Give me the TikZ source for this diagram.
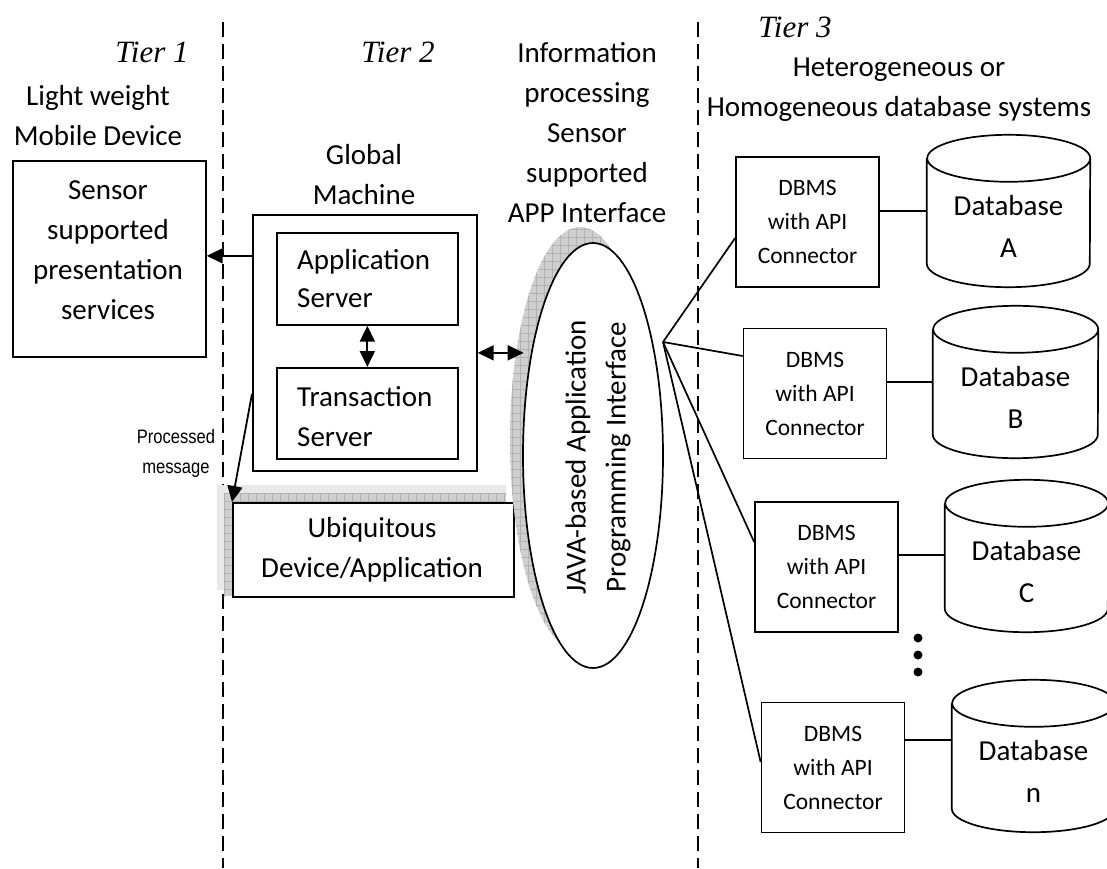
\documentclass[tikz,border=0pt]{standalone}
\usepackage{fontspec}
\setmainfont{Carlito}
\newfontfamily\tierfont{Liberation Serif}
\newfontfamily\narrowfont[FakeStretch=0.85]{Liberation Sans}
\usetikzlibrary{arrows.meta,patterns.meta,calc,shapes.geometric}

\newcommand\dbcyl[2]{% node name, x radius
  \draw[edge] ([yshift=7.5pt]#1.north west) -- ([yshift=23.5pt]#1.south west)
    arc[start angle=180,end angle=360,x radius=#2pt,y radius=23.5pt]
    -- ([yshift=7.5pt]#1.north east)
    arc[start angle=0,end angle=360,x radius=#2pt,y radius=23.5pt];}

\tikzset{
  edge/.style={line width=1.7pt},
  txt/.style={font=\fontsize{29}{40}\selectfont, align=center, inner sep=0pt},
  tier/.style={font=\tierfont\itshape\fontsize{31}{36}\selectfont, inner sep=0pt},
  boxx/.style={draw, line width=1.7pt, inner sep=0pt},
  dbms/.style={draw, line width=1.7pt, inner sep=0pt, align=center,
    font=\fontsize{23.5}{34}\selectfont, minimum width=143pt, minimum height=130pt},
  dbnode/.style={inner sep=0pt, align=center, font=\fontsize{29}{42}\selectfont,
    minimum height=121pt},
  divider/.style={line width=1.8pt, dash pattern=on 15pt off 7pt},
  arr/.style={line width=1.8pt, -{Triangle[length=16pt,width=15pt]}},
  darr/.style={line width=1.8pt, {Triangle[length=16pt,width=15pt]}-{Triangle[length=16pt,width=15pt]}},
  shade/.style={preaction={fill=gray!38}, pattern={Hatch[angle=0,distance=8pt,line width=0.5pt]}, pattern color=gray!60},
  dot/.style={circle, fill=black, inner sep=0pt, minimum size=9pt}
}

\begin{document}
\begin{tikzpicture}[x=1pt,y=-1pt]
\fill[white] (0,0) rectangle (1107,869);
\useasboundingbox (0,0) rectangle (1107,869);

% tier dividers
\coordinate (d1t) at (223,22);  \coordinate (d1b) at (223,868);
\coordinate (d2t) at (698,22);  \coordinate (d2b) at (698,868);
\draw[divider] (d1t) -- (d1b);
\draw[divider] (d2t) -- (d2b);

% tier titles
\node[tier] (t1) at (152,52) {Tier 1};
\node[tier] (t2) at (398,52) {Tier 2};
\node[tier] (t3) at (795,27) {Tier 3};

% Tier 1
\node[txt] (mobile) at (98,116) {Light weight\\Mobile Device};
\node[boxx, anchor=north west, minimum width=193pt, minimum height=196pt] (pres) at (12,160) {};
\node[txt] (prestxt) at (108,250) {Sensor\\supported\\presentation\\services};

% Tier 2
\node[txt] (gmlabel) at (364,175) {Global\\Machine};
\node[boxx, anchor=north west, minimum width=224pt, minimum height=256pt] (gm) at (252,214) {};
\node[boxx, anchor=north west, minimum width=181pt, minimum height=92pt] (app) at (276,232) {};
\node[txt, align=left, anchor=west, font=\fontsize{29}{38}\selectfont] (apptxt) at (297,279) {Application\\Server};
\node[boxx, anchor=north west, minimum width=181pt, minimum height=91pt] (trans) at (276,367) {};
\node[txt, align=left, anchor=west] (transtxt) at (297,417) {Transaction\\Server};

% ubiquitous with shadow
\fill[gray!18] (217,485) rectangle (506,590);
\path[shade] (224,493) rectangle (506,596);
\node[boxx, fill=white, anchor=north west, minimum width=281pt, minimum height=94pt] (ubiq) at (232,502) {};
\node[txt] (ubiqtxt) at (372,550) {Ubiquitous\\Device/Application};

\node[font=\narrowfont\fontsize{19.5}{30}\selectfont, align=center, inner sep=0pt] (proc) at (176,453) {Processed\\message};

% API ellipse
\node[txt] (info) at (587,133) {Information\\processing\\Sensor\\supported\\APP Interface};
\path[shade] (580,439.5) ellipse[x radius=70pt, y radius=212.5pt];
\node[draw, line width=1.7pt, fill=white, ellipse, minimum width=140pt, minimum height=425pt, inner sep=0pt] (api) at (593,455.5) {};
\node[txt, rotate=90] (apitxt) at (598,457) {JAVA-based Application\\Programming Interface};
\coordinate (fan) at (663,342);

% DBMS boxes
\node[dbms] (dbmsA) at (807.5,222) {DBMS\\with API\\Connector};
\node[dbms] (dbmsB) at (815,393.5) {DBMS\\with API\\Connector};
\node[dbms] (dbmsC) at (826.5,567) {DBMS\\with API\\Connector};
\node[dbms] (dbmsN) at (833,767.5) {DBMS\\with API\\Connector};

% databases
\node[txt] (hetero) at (899,90) {Heterogeneous or\\Homogeneous database systems};
\node[dbnode, minimum width=163pt] (dbA) at (1008.5,226.5) {Database\\A};
\node[dbnode, minimum width=165pt] (dbB) at (1015.5,397.5) {Database\\B};
\node[dbnode, minimum width=163pt] (dbC) at (1026.5,571.5) {Database\\C};
\node[dbnode, minimum width=163pt] (dbN) at (1033.5,771.5) {Database\\n};
\dbcyl{dbA}{81.5}
\dbcyl{dbB}{82.5}
\dbcyl{dbC}{81.5}
\dbcyl{dbN}{81.5}

\node[dot] (dot1) at (918,638) {};
\node[dot] (dot2) at (918,655) {};
\node[dot] (dot3) at (918,672) {};

% connectors
\draw[arr] ([yshift=87pt]gm.west) -- ([yshift=87pt]gm.west -| pres.east);
\draw[arr] ([yshift=-51pt]gm.west) -- (ubiq.north west);
\draw[darr] (app.south) -- (trans.north);
\draw[darr] ([yshift=-10pt]gm.east) -- ++(46,0);

\draw[edge] (fan) -- ([yshift=-16pt]dbmsA.west);
\draw[edge] (fan) -- ([yshift=37.5pt]dbmsB.west);
\draw[edge] (fan) -- ([yshift=25pt]dbmsC.west);
\draw[edge] (fan) -- ([yshift=5.5pt]dbmsN.west);

\draw[edge] ([yshift=11pt]dbmsA.east) -- ([yshift=11pt]dbmsA.east -| dbA.west);
\draw[edge] ([yshift=11.5pt]dbmsB.east) -- ([yshift=11.5pt]dbmsB.east -| dbB.west);
\draw[edge] ([yshift=12pt]dbmsC.east) -- ([yshift=12pt]dbmsC.east -| dbC.west);
\draw[edge] ([yshift=27.5pt]dbmsN.east) -- ([yshift=27.5pt]dbmsN.east -| dbN.west);
\end{tikzpicture}
\end{document}
